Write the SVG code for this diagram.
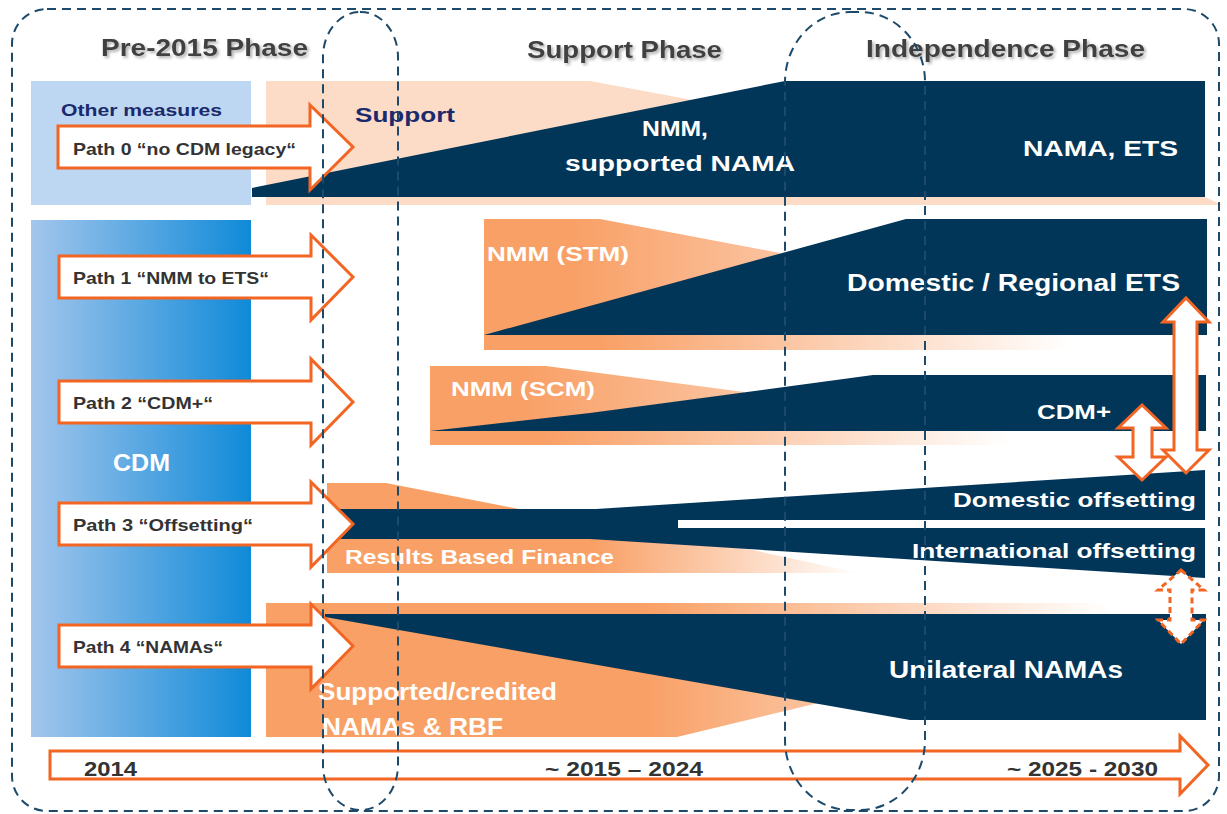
<svg xmlns="http://www.w3.org/2000/svg" width="1227" height="814" viewBox="0 0 1227 814">
<defs>
<style>
text{font-family:"Liberation Sans",Arial,sans-serif;font-weight:bold}
.ph{font-size:23px;fill:#404040}
.pt{font-size:17px;fill:#333}
.wt{fill:#fff}
.nv{fill:#023659}
.arr{fill:#fff;stroke:#f26522;stroke-width:3;stroke-linejoin:miter}
.dash{fill:none;stroke:#1d4a6a;stroke-width:2;stroke-dasharray:9 6}
</style>
<filter id="sh" x="-5%" y="-20%" width="110%" height="150%">
<feDropShadow dx="2" dy="2" stdDeviation="1.5" flood-color="#9a9a9a" flood-opacity="0.8"/>
</filter>
<linearGradient id="cdm" x1="0" y1="0" x2="1" y2="0">
<stop offset="0" stop-color="#a3c6ec"/>
<stop offset="1" stop-color="#0f8ad8"/>
</linearGradient>
<linearGradient id="o1" gradientUnits="userSpaceOnUse" x1="484" y1="0" x2="780" y2="0">
<stop offset="0.3" stop-color="#f9a066"/>
<stop offset="1" stop-color="#fbc3a0"/>
</linearGradient>
<linearGradient id="s1" gradientUnits="userSpaceOnUse" x1="484" y1="0" x2="1070" y2="0">
<stop offset="0.2" stop-color="#f9a066"/>
<stop offset="1" stop-color="#f9a066" stop-opacity="0"/>
</linearGradient>
<linearGradient id="o2" gradientUnits="userSpaceOnUse" x1="430" y1="0" x2="744" y2="0">
<stop offset="0.3" stop-color="#f9a066"/>
<stop offset="1" stop-color="#fbc3a0"/>
</linearGradient>
<linearGradient id="s2" gradientUnits="userSpaceOnUse" x1="430" y1="0" x2="1010" y2="0">
<stop offset="0.2" stop-color="#f9a066"/>
<stop offset="1" stop-color="#f9a066" stop-opacity="0"/>
</linearGradient>
<linearGradient id="o3" gradientUnits="userSpaceOnUse" x1="327" y1="0" x2="860" y2="0">
<stop offset="0.5" stop-color="#f9a066"/>
<stop offset="1" stop-color="#f9a066" stop-opacity="0"/>
</linearGradient>
<linearGradient id="o4" gradientUnits="userSpaceOnUse" x1="266" y1="0" x2="1110" y2="0">
<stop offset="0.45" stop-color="#f9a066"/>
<stop offset="1" stop-color="#f9a066" stop-opacity="0"/>
</linearGradient>
</defs>

<g id="phase-titles" filter="url(#sh)">
<text class="ph" x="101" y="56" textLength="207" lengthAdjust="spacingAndGlyphs">Pre-2015 Phase</text>
<text class="ph" x="527" y="58" textLength="195" lengthAdjust="spacingAndGlyphs">Support Phase</text>
<text class="ph" x="866" y="57" textLength="279" lengthAdjust="spacingAndGlyphs">Independence Phase</text>
</g>

<g id="row0">
<rect x="31" y="81" width="220" height="124" fill="#bdd7f2"/>
<polygon points="266,81 590,81 790,118 790,205 266,205" fill="#fddcc7"/>
<polygon points="266,197 1205,197 1222,205 266,205" fill="#fddcc7"/>
<polygon class="nv" points="252,188 785,81 1205,81 1205,197 252,197"/>
<text x="61" y="116" font-size="17" fill="#1a2a6c" textLength="161" lengthAdjust="spacingAndGlyphs">Other measures</text>
<text x="355" y="122" font-size="21" fill="#1a2a6c" textLength="100" lengthAdjust="spacingAndGlyphs">Support</text>
<text class="wt" x="642" y="136" font-size="22" textLength="66" lengthAdjust="spacingAndGlyphs">NMM,</text>
<text class="wt" x="565" y="171" font-size="22" textLength="230" lengthAdjust="spacingAndGlyphs">supported NAMA</text>
<text class="wt" x="1023" y="156" font-size="22" textLength="155" lengthAdjust="spacingAndGlyphs">NAMA, ETS</text>
</g>

<g id="cdm-block">
<rect x="31" y="220" width="220" height="517" fill="url(#cdm)"/>
<text class="wt" x="113" y="471" font-size="23" textLength="57" lengthAdjust="spacingAndGlyphs">CDM</text>
</g>

<g id="row1">
<polygon points="484,219 600,219 780,253 780,335 484,335" fill="url(#o1)"/>
<rect x="484" y="335" width="600" height="15" fill="url(#s1)"/>
<polygon class="nv" points="484,335 906,219 1207,219 1207,335"/>
<text class="wt" x="487" y="261" font-size="21" textLength="142" lengthAdjust="spacingAndGlyphs">NMM (STM)</text>
<text class="wt" x="847" y="291" font-size="24" textLength="333" lengthAdjust="spacingAndGlyphs">Domestic / Regional ETS</text>
</g>

<g id="row2">
<polygon points="430,366 546,366 744,392 744,431 430,431" fill="url(#o2)"/>
<rect x="430" y="431" width="600" height="14" fill="url(#s2)"/>
<polygon class="nv" points="430,431 590,413 873,375 1206,375 1206,431"/>
<text class="wt" x="451" y="396" font-size="21" textLength="144" lengthAdjust="spacingAndGlyphs">NMM (SCM)</text>
<text class="wt" x="1037" y="419" font-size="20" textLength="74" lengthAdjust="spacingAndGlyphs">CDM+</text>
</g>

<g id="row3">
<polygon points="327,483 386,483 519,509 327,509" fill="#f9a066"/>
<polygon points="327,539 700,539 860,573 327,573" fill="url(#o3)"/>
<polygon class="nv" points="327,509 596,509 1205,470 1205,520 678,520 678,528 1205,528 1205,578 590,539 327,539"/>
<text class="wt" x="953" y="507" font-size="21" textLength="243" lengthAdjust="spacingAndGlyphs">Domestic offsetting</text>
<text class="wt" x="912" y="558" font-size="21" textLength="284" lengthAdjust="spacingAndGlyphs">International offsetting</text>
<text class="wt" x="345" y="564" font-size="21" textLength="269" lengthAdjust="spacingAndGlyphs">Results Based Finance</text>
</g>

<g id="row4">
<polygon points="266,603 1200,603 1200,614 810,705 677,737 266,737" fill="url(#o4)"/>
<polygon class="nv" points="325,614 1206,614 1206,720 910,720 325,617"/>
<text class="wt" x="318" y="700" font-size="23" textLength="239" lengthAdjust="spacingAndGlyphs">Supported/credited</text>
<text class="wt" x="322" y="735" font-size="23" textLength="181" lengthAdjust="spacingAndGlyphs">NAMAs  &amp; RBF</text>
<text class="wt" x="889" y="678" font-size="24" textLength="234" lengthAdjust="spacingAndGlyphs">Unilateral NAMAs</text>
</g>

<g id="path0">
<polygon class="arr" points="58,126 310,126 310,105 353,147 310,190 310,168 58,168"/>
<text class="pt" x="73" y="155" textLength="223" lengthAdjust="spacingAndGlyphs">Path 0 “no CDM legacy“</text>
</g>
<g id="path1">
<polygon class="arr" points="59,256 311,256 311,235 353,277 311,320 311,298 59,298"/>
<text class="pt" x="73" y="284" textLength="196" lengthAdjust="spacingAndGlyphs">Path 1 “NMM to ETS“</text>
</g>
<g id="path2">
<polygon class="arr" points="59,381 311,381 311,359 353,402 311,445 311,423 59,423"/>
<text class="pt" x="73" y="409" textLength="140" lengthAdjust="spacingAndGlyphs">Path 2 “CDM+“</text>
</g>
<g id="path3">
<polygon class="arr" points="59,503 311,503 311,482 353,524 311,567 311,545 59,545"/>
<text class="pt" x="73" y="531" textLength="180" lengthAdjust="spacingAndGlyphs">Path 3 “Offsetting“</text>
</g>
<g id="path4">
<polygon class="arr" points="59,625 311,625 311,604 353,646 311,689 311,667 59,667"/>
<text class="pt" x="73" y="653" textLength="150" lengthAdjust="spacingAndGlyphs">Path 4 “NAMAs“</text>
</g>

<g id="timeline">
<polygon class="arr" points="50,751 1180,751 1180,736 1208,765 1180,794 1180,779 50,779"/>
<text x="84" y="776" font-size="21" fill="#333" textLength="53" lengthAdjust="spacingAndGlyphs">2014</text>
<text x="545" y="776" font-size="21" fill="#333" textLength="158" lengthAdjust="spacingAndGlyphs">~ 2015 – 2024</text>
<text x="1007" y="776" font-size="21" fill="#333" textLength="151" lengthAdjust="spacingAndGlyphs">~ 2025 - 2030</text>
</g>

<g id="connectors">
<polygon class="arr" points="1142,405 1166,428 1152,428 1152,457 1166,457 1142,480 1118,457 1133,457 1133,428 1118,428"/>
<polygon class="arr" points="1186,298 1209,322 1197,322 1197,450 1209,450 1186,473 1163,450 1174,450 1174,322 1163,322"/>
<polygon class="arr" stroke-dasharray="6 4" points="1181,570 1204,590 1192,590 1192,620 1204,620 1181,644 1158,620 1170,620 1170,590 1158,590"/>
</g>

<g id="phase-frames">
<rect class="dash" x="12" y="9" width="1207" height="802" rx="35" ry="35"/>
<rect class="dash" x="323" y="12" width="75" height="798" rx="37" ry="45"/>
<rect class="dash" x="785" y="12" width="140" height="798" rx="65" ry="70"/>
</g>
</svg>
